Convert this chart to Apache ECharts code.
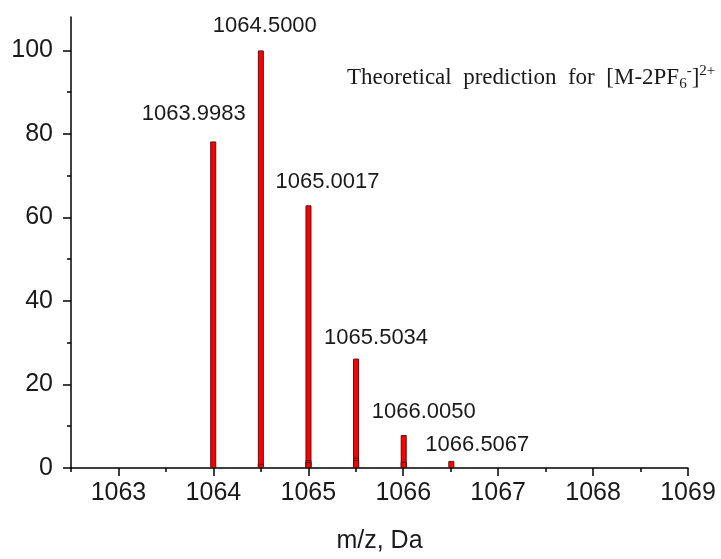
<!DOCTYPE html>
<html><head><meta charset="utf-8">
<script src="https://cdn.jsdelivr.net/npm/echarts@6/dist/echarts.min.js"></script>
<style>html,body{margin:0;padding:0;background:#fff}#c{width:721px;height:559px}</style>
</head><body><div id="c"></div>
<script>
// ---- data ----
const peakMz = [1063.9983, 1064.5000, 1065.0017, 1065.5034, 1066.0050, 1066.5067];
const peakIntensity = [78.2, 100, 62.9, 26.2, 7.9, 1.7];
const minorMz = [1064.5000, 1065.0017, 1065.0017, 1065.5034, 1065.5034, 1066.0050];
const minorIntensity = [1.0, 1.9, 1.4, 2.5, 1.9, 1.5];
const xTicks = [1063, 1064, 1065, 1066, 1067, 1068, 1069];
const xMinorTicks = [1062.5, 1063.5, 1064.5, 1065.5, 1066.5, 1067.5, 1068.5];
const yTicks = [0, 20, 40, 60, 80, 100];
const yMinorTicks = [10, 30, 50, 70, 90];
// ---- style ----
const labelOffsets = [[-19.5, -17], [4, -13], [19, -12], [20, -10], [20, -12], [26, -5]];
const sans = 'Liberation Sans, Arial, sans-serif';
const ink = '#1a1a1a';

const chart = echarts.init(document.getElementById('c'), null, {renderer: 'canvas'});
const barStyle = {color: '#ff0000', borderColor: '#5a1010', borderWidth: 1};
chart.setOption({
  animation: false,
  backgroundColor: '#fff',
  title: {
    text: 'Theoretical  prediction  for  [M-2PF{sub|6}{sup|-}]{sup|2+}',
    left: 347, top: 64, padding: 0,
    textStyle: {
      fontFamily: 'Liberation Serif, Times New Roman, serif', fontSize: 23, fontWeight: 'normal',
      color: ink, lineHeight: 28,
      rich: {
        sub: {fontFamily: 'Liberation Serif', fontSize: 15, lineHeight: 15, verticalAlign: 'bottom', color: ink},
        sup: {fontFamily: 'Liberation Serif', fontSize: 15, lineHeight: 15, verticalAlign: 'top', color: ink}
      }
    }
  },
  grid: {left: 71, right: 33, top: 17, bottom: 91, containLabel: false, outerBoundsMode: 'none'},
  xAxis: [{
    type: 'value', min: 1062.5, max: 1069,
    name: 'm/z, Da', nameLocation: 'middle', nameGap: 61,
    nameTextStyle: {fontFamily: sans, fontSize: 25, color: ink},
    axisLine: {show: true, onZero: false, lineStyle: {color: '#000', width: 1.5}},
    axisTick: {show: true, inside: false, length: 8, customValues: xTicks, lineStyle: {color: '#000', width: 1.5}},
    axisLabel: {customValues: xTicks, formatter: v => String(Math.round(v)), fontFamily: sans, fontSize: 25, color: ink, margin: 13},
    splitLine: {show: false}
  }, {
    type: 'value', min: 1062.5, max: 1069, position: 'bottom',
    axisLine: {show: false},
    axisTick: {show: true, inside: false, length: 4, customValues: xMinorTicks, lineStyle: {color: '#000', width: 1.5}},
    axisLabel: {show: false}, splitLine: {show: false}
  }],
  yAxis: [{
    type: 'value', min: 0, max: 108,
    axisLine: {show: true, lineStyle: {color: '#000', width: 1.5}},
    axisTick: {show: true, inside: false, length: 8, customValues: yTicks, lineStyle: {color: '#000', width: 1.5}},
    axisLabel: {customValues: yTicks, fontFamily: sans, fontSize: 25, color: ink, margin: 18},
    splitLine: {show: false}
  }, {
    type: 'value', min: 0, max: 108, position: 'left',
    axisLine: {show: false},
    axisTick: {show: true, inside: false, length: 4, customValues: yMinorTicks, lineStyle: {color: '#000', width: 1.5}},
    axisLabel: {show: false}, splitLine: {show: false}
  }],
  series: [{
    type: 'bar', xAxisIndex: 0, yAxisIndex: 0, barWidth: 6, barGap: '-100%',
    itemStyle: barStyle,
    data: peakMz.map((x, i) => ({
      value: [x, peakIntensity[i]],
      label: {offset: labelOffsets[i]}
    })),
    label: {
      show: true, position: 'top', distance: 0,
      formatter: p => p.value[0].toFixed(4),
      fontFamily: sans, fontSize: 22, lineHeight: 22, color: ink
    }
  }, {
    type: 'bar', xAxisIndex: 0, yAxisIndex: 0, barWidth: 6, barGap: '-100%',
    itemStyle: barStyle,
    data: minorMz.map((x, i) => [x, minorIntensity[i]])
  }]
});
</script></body></html>
